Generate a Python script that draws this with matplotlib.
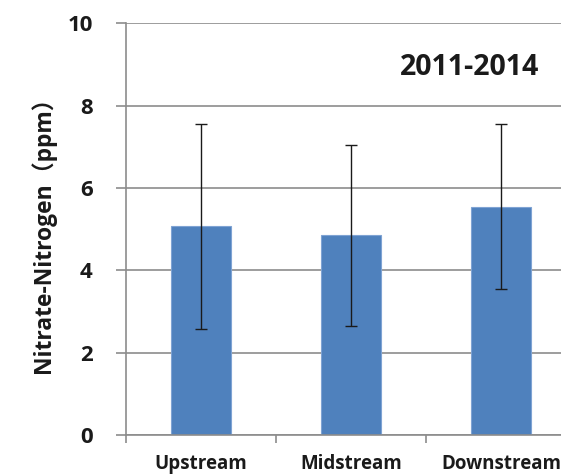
import numpy as np
import matplotlib.pyplot as plt

# Data
sites = ["Upstream", "Midstream", "Downstream"]
nitrate_mean = [5.07, 4.85, 5.55]
nitrate_err = [2.49, 2.20, 2.01]
y_ticks = [0, 2, 4, 6, 8, 10]

fig = plt.figure(figsize=(5.61, 4.75), dpi=100)
ax = fig.add_axes([126 / 561, 40 / 475, 450 / 561, 411.5 / 475])

x = np.arange(len(sites))
ax.bar(x, nitrate_mean, width=0.4, color="#4F81BD", edgecolor="#7FA3D3",
       linewidth=0.8, zorder=2)
ax.errorbar(x, nitrate_mean, yerr=nitrate_err, fmt="none", ecolor="#1a1a1a",
            elinewidth=1.0, capsize=4, capthick=1.0, zorder=3)

ax.set_xlim(-0.5, 2.5)
ax.set_ylim(0, 10)
ax.set_yticks(y_ticks)
ax.yaxis.grid(True, color="#8c8c8c", linewidth=1.2, zorder=0)
ax.set_axisbelow(True)

for side in ["top", "right"]:
    ax.spines[side].set_visible(False)
for side in ["left", "bottom"]:
    ax.spines[side].set_color("#8c8c8c")
    ax.spines[side].set_linewidth(1.2)

font = ["Open Sans", "Noto Sans CJK SC", "DejaVu Sans"]
ax.set_xticks(x)
ax.set_xticklabels(sites, fontsize=13.5, fontweight="bold", family=font,
                   color="#1a1a1a")
ax.set_xticks([-0.5, 0.5, 1.5, 2.5], minor=True)
ax.tick_params(axis="x", which="major", length=0, pad=14)
ax.tick_params(axis="x", which="minor", length=6, width=1.2, color="#8c8c8c")
ax.tick_params(axis="y", length=7, width=1.2, color="#8c8c8c", pad=17)
for lab in ax.get_yticklabels():
    lab.set_fontsize(16)
    lab.set_fontweight("bold")
    lab.set_family(font)
    lab.set_color("#1a1a1a")

ax.set_ylabel("Nitrate-Nitrogen（ppm）", fontsize=16.5, fontweight="bold",
              family=font, labelpad=8, color="#1a1a1a")
ax.text(0.764, 0.892, "2011-2014", transform=ax.transAxes, ha="center",
        va="center", fontsize=20.5, fontweight="bold", family=font,
        color="#1a1a1a")

fig.savefig("out.png", dpi=100)
